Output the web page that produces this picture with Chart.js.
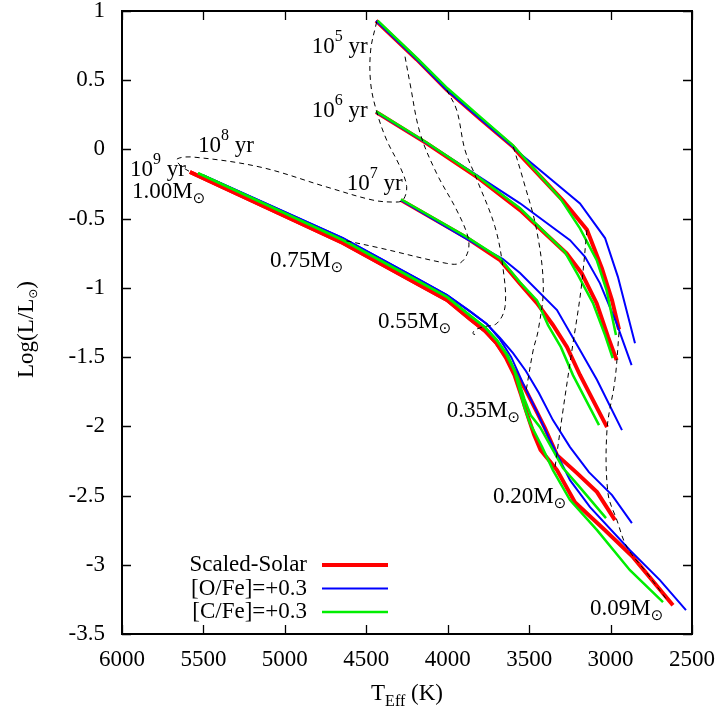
<!DOCTYPE html>
<html>
<head>
<meta charset="utf-8">
<script src="https://cdn.jsdelivr.net/npm/chart.js@4"></script>
<style>
  html, body { margin: 0; padding: 0; background: #fff; }
</style>
</head>
<body>
<canvas id="hrChart" width="719" height="711"></canvas>
<script>
// axis ticks
const xTicks = [6000, 5500, 5000, 4500, 4000, 3500, 3000, 2500];
const yTicks = [1, 0.5, 0, -0.5, -1, -1.5, -2, -2.5, -3, -3.5];

// isochrones, points are [Teff, log L]
const iso5Solar = [[4440,0.93],[4190,0.65],[4006,0.43],[3800,0.22],[3599,0.02],[3556,-0.04],[3292,-0.37],[3145,-0.58],[3053,-0.86],[2991,-1.09],[2948,-1.30]];
const iso5Oxygen = [[4440,0.93],[4190,0.65],[4006,0.43],[3800,0.22],[3599,0.02],[3556,-0.03],[3188,-0.39],[3034,-0.64],[2955,-0.92],[2850,-1.40]];
const iso5Carbon = [[4430,0.93],[4185,0.655],[4000,0.44],[3795,0.23],[3599,0.03],[3311,-0.35],[3188,-0.57],[3085,-0.80],[3024,-1.02],[2967,-1.34]];

const iso6Solar = [[4440,0.27],[4129,0.044],[3822,-0.197],[3556,-0.438],[3270,-0.751],[3177,-0.895],[3085,-1.112],[3016,-1.353],[2963,-1.522]];
const iso6Oxygen = [[4440,0.27],[4129,0.045],[3822,-0.185],[3556,-0.389],[3249,-0.655],[3157,-0.775],[3065,-0.967],[2963,-1.257],[2871,-1.558]];
const iso6Carbon = [[4440,0.275],[4129,0.05],[3822,-0.19],[3556,-0.425],[3280,-0.741],[3200,-0.908],[3108,-1.110],[3034,-1.341],[2987,-1.507]];

const iso7Solar = [[4287,-0.366],[3882,-0.640],[3679,-0.799],[3556,-0.97],[3452,-1.110],[3354,-1.268],[3268,-1.427],[3188,-1.629],[3108,-1.811],[3022,-2.006]];
const iso7Oxygen = [[4287,-0.366],[3882,-0.647],[3661,-0.792],[3556,-0.893],[3329,-1.160],[3188,-1.449],[3083,-1.666],[2930,-2.027]];
const iso7Carbon = [[4287,-0.36],[3882,-0.633],[3679,-0.785],[3556,-0.96],[3452,-1.09],[3384,-1.269],[3305,-1.428],[3231,-1.63],[3151,-1.811],[3071,-1.991]];

const iso8Solar = [[5583,-0.163],[4643,-0.676],[4170,-0.980],[4004,-1.088],[3863,-1.225],[3770,-1.310],[3700,-1.400],[3640,-1.500],[3590,-1.600],[3520,-1.740],[3460,-1.880],[3403,-2.013],[3329,-2.208],[3206,-2.338],[3083,-2.475],[2973,-2.678]];
const iso8Oxygen = [[5503,-0.185],[4643,-0.640],[4170,-0.944],[4004,-1.052],[3863,-1.170],[3760,-1.260],[3680,-1.360],[3600,-1.470],[3520,-1.600],[3440,-1.760],[3354,-1.955],[3249,-2.150],[3133,-2.331],[2991,-2.497],[2869,-2.699]];
const iso8Carbon = [[5533,-0.171],[4643,-0.655],[4170,-0.958],[4004,-1.066],[3863,-1.200],[3770,-1.285],[3700,-1.375],[3630,-1.490],[3570,-1.650],[3530,-1.800],[3490,-1.920],[3433,-2.006],[3292,-2.302],[3200,-2.425],[3028,-2.663]];

const iso9Solar = [[5583,-0.163],[4643,-0.676],[4170,-0.980],[4004,-1.088],[3863,-1.225],[3770,-1.310],[3700,-1.400],[3640,-1.510],[3590,-1.630],[3550,-1.770],[3510,-1.920],[3470,-2.060],[3430,-2.170],[3329,-2.316],[3219,-2.548],[3034,-2.750],[2862,-2.945],[2617,-3.292]];
const iso9Oxygen = [[5503,-0.185],[4643,-0.640],[4170,-0.944],[4004,-1.052],[3863,-1.170],[3760,-1.260],[3680,-1.370],[3610,-1.500],[3538,-1.688],[3450,-1.900],[3372,-2.10],[3249,-2.389],[3126,-2.584],[2881,-2.895],[2697,-3.111],[2537,-3.328]];
const iso9Carbon = [[5533,-0.171],[4643,-0.655],[4170,-0.958],[4004,-1.066],[3863,-1.200],[3770,-1.285],[3700,-1.375],[3640,-1.480],[3590,-1.600],[3560,-1.730],[3530,-1.860],[3495,-1.977],[3420,-2.150],[3354,-2.316],[3249,-2.533],[3083,-2.750],[2881,-3.039],[2678,-3.270]];

// evolutionary tracks (dashed)
const track100 = [[4436,0.923],[4473,0.718],[4473,0.478],[4436,0.272],[4375,0.068],[4293,-0.125],[4252,-0.269],[4275,-0.366],[4324,-0.380],[4459,-0.366],[4741,-0.272],[5153,-0.127],[5564,-0.055],[5662,-0.069],[5644,-0.113],[5570,-0.171]];
const track075 = [[4262,0.670],[4232,0.480],[4170,0.119],[4068,-0.173],[3945,-0.438],[3876,-0.631],[3876,-0.739],[3925,-0.821],[4006,-0.823],[4416,-0.712],[4643,-0.655]];
const track055 = [[4006,0.429],[3945,0.285],[3894,-0.004],[3827,-0.2],[3710,-0.558],[3659,-0.871],[3648,-1.137],[3699,-1.257],[3782,-1.281],[3833,-1.305],[3845,-1.33],[3820,-1.34]];
const track035 = [[3597,0.019],[3536,-0.221],[3454,-0.582],[3413,-0.992],[3444,-1.305],[3475,-1.449],[3520,-1.753]];
const track020 = [[3145,-0.582],[3182,-1.016],[3237,-1.449],[3292,-1.883],[3341,-2.295]];
const track009 = [[2948,-1.319],[2973,-1.666],[3022,-2.027],[3016,-2.483],[2961,-2.678],[2899,-2.873],[2776,-3.061],[2648,-3.263]];

const seriesNames = ['Scaled-Solar', '[O/Fe]=+0.3', '[C/Fe]=+0.3'];
const massNames = ['1.00', '0.75', '0.55', '0.35', '0.20', '0.09'];
const ageExps = ['5', '6', '7', '8', '9'];

const serif = '"Liberation Serif", "Times New Roman", serif';
const sunFont = '"DejaVu Sans", sans-serif';

const toPts = arr => arr.map(p => ({ x: p[0], y: p[1] }));

const styles = [
  { color: '#ff0000', width: 4, order: 3 },
  { color: '#0000ff', width: 2, order: 2 },
  { color: '#00ee00', width: 2.5, order: 1 }
];

const isochrones = [
  [iso5Solar, iso5Oxygen, iso5Carbon],
  [iso6Solar, iso6Oxygen, iso6Carbon],
  [iso7Solar, iso7Oxygen, iso7Carbon],
  [iso8Solar, iso8Oxygen, iso8Carbon],
  [iso9Solar, iso9Oxygen, iso9Carbon]
];

const datasets = [];
isochrones.forEach(group => {
  group.forEach((pts, i) => {
    datasets.push({
      data: toPts(pts),
      showLine: true,
      borderColor: styles[i].color,
      borderWidth: styles[i].width,
      pointRadius: 0,
      tension: 0,
      order: styles[i].order
    });
  });
});

[track100, track075, track055, track035, track020, track009].forEach(pts => {
  datasets.push({
    data: toPts(pts),
    showLine: true,
    borderColor: '#000',
    borderWidth: 1,
    borderDash: [5, 4],
    pointRadius: 0,
    tension: 0.35,
    order: 0
  });
});

// draw a run of text pieces (base, sub, sup) one after another
function drawRuns(ctx, runs, x, y, align) {
  let total = 0;
  runs.forEach(r => {
    ctx.font = r.size + 'px ' + (r.font || serif);
    r.w = ctx.measureText(r.t).width;
    total += r.w;
  });
  let cx = align === 'center' ? x - total / 2 : (align === 'right' ? x - total : x);
  runs.forEach(r => {
    ctx.font = r.size + 'px ' + (r.font || serif);
    ctx.fillText(r.t, cx, y + (r.dy || 0));
    cx += r.w;
  });
}

// label anchors in data units
const massLabelT = [5939, 5091, 4428, 4006, 3722, 3126];
const massLabelL = [-0.351, -0.850, -1.290, -1.931, -2.557, -3.364];
const ageLabelT = [4835, 4835, 4620, 5533, 5951];
const ageLabelL = [0.697, 0.234, -0.293, -0.019, -0.192];

const decorPlugin = {
  id: 'decor',
  afterDraw(chart) {
    const { ctx, chartArea: a, scales: { x, y } } = chart;
    ctx.save();
    ctx.fillStyle = '#000';
    ctx.strokeStyle = '#000';
    ctx.setLineDash([]);

    // ticks, inward on all sides
    ctx.lineWidth = 1.3;
    ctx.beginPath();
    xTicks.forEach(v => {
      const px = Math.round(x.getPixelForValue(v)) + 0.5;
      ctx.moveTo(px, a.bottom); ctx.lineTo(px, a.bottom - 9);
      ctx.moveTo(px, a.top); ctx.lineTo(px, a.top + 9);
    });
    yTicks.forEach(v => {
      const py = Math.round(y.getPixelForValue(v)) + 0.5;
      ctx.moveTo(a.left, py); ctx.lineTo(a.left + 9, py);
      ctx.moveTo(a.right, py); ctx.lineTo(a.right - 9, py);
    });
    ctx.stroke();

    ctx.lineWidth = 2;
    ctx.strokeRect(a.left, a.top, a.right - a.left, a.bottom - a.top);

    ctx.textBaseline = 'alphabetic';
    ctx.textAlign = 'left';

    // mass labels
    massNames.forEach((m, i) => {
      const px = x.getPixelForValue(massLabelT[i]);
      const py = y.getPixelForValue(massLabelL[i]);
      drawRuns(ctx, [
        { t: m + 'M', size: 23 },
        { t: '\u2299', size: 15, dy: 5, font: sunFont }
      ], px, py, 'left');
    });

    // age labels
    ageExps.forEach((e, i) => {
      const px = x.getPixelForValue(ageLabelT[i]);
      const py = y.getPixelForValue(ageLabelL[i]);
      drawRuns(ctx, [
        { t: '10', size: 23 },
        { t: e, size: 16, dy: -12 },
        { t: ' yr', size: 23 }
      ], px, py, 'left');
    });

    // legend, bottom left inside the frame
    const lx = a.left + 185;
    const ly = a.bottom - 69;
    seriesNames.forEach((name, i) => {
      const yy = ly + i * 23.5;
      ctx.font = '23px ' + serif;
      ctx.textAlign = 'right';
      ctx.textBaseline = 'middle';
      ctx.fillText(name, lx, yy);
      ctx.beginPath();
      ctx.strokeStyle = styles[i].color;
      ctx.lineWidth = styles[i].width;
      ctx.moveTo(lx + 15, yy);
      ctx.lineTo(lx + 81, yy);
      ctx.stroke();
    });

    // axis titles
    ctx.fillStyle = '#000';
    ctx.textAlign = 'left';
    ctx.textBaseline = 'alphabetic';
    drawRuns(ctx, [
      { t: 'T', size: 23 },
      { t: 'Eff', size: 16, dy: 6 },
      { t: ' (K)', size: 23 }
    ], (a.left + a.right) / 2, 700, 'center');

    ctx.translate(33, (a.top + a.bottom) / 2 + 7);
    ctx.rotate(-Math.PI / 2);
    drawRuns(ctx, [
      { t: 'Log(L/L', size: 23 },
      { t: '\u2299', size: 12, dy: 4, font: sunFont },
      { t: ')', size: 23 }
    ], 0, 0, 'center');
    ctx.restore();
  }
};

const noPad = s => { s.paddingTop = 0; s.paddingBottom = 0; s.paddingLeft = 0; s.paddingRight = 0; };

new Chart(document.getElementById('hrChart').getContext('2d'), {
  type: 'scatter',
  data: { datasets: datasets },
  options: {
    responsive: false,
    animation: false,
    layout: { padding: { top: 11, right: 27, left: 0, bottom: 0 } },
    plugins: { legend: { display: false }, tooltip: { enabled: false } },
    scales: {
      x: {
        type: 'linear',
        min: 2500,
        max: 6000,
        reverse: true,
        afterBuildTicks: s => { s.ticks = xTicks.map(v => ({ value: v })); },
        afterFit: s => { s.height = 77; noPad(s); },
        ticks: {
          font: { family: serif, size: 23 },
          color: '#000',
          padding: 12,
          maxRotation: 0,
          autoSkip: false,
          callback: v => String(v)
        },
        grid: { display: false, drawTicks: false },
        border: { display: false }
      },
      y: {
        type: 'linear',
        min: -3.5,
        max: 1,
        afterBuildTicks: s => { s.ticks = yTicks.map(v => ({ value: v })); },
        afterFit: s => { s.width = 122; noPad(s); },
        ticks: {
          font: { family: serif, size: 23 },
          color: '#000',
          padding: 17,
          autoSkip: false,
          callback: v => String(Math.round(v * 10) / 10)
        },
        grid: { display: false, drawTicks: false },
        border: { display: false }
      }
    }
  },
  plugins: [decorPlugin]
});
</script>
</body>
</html>
